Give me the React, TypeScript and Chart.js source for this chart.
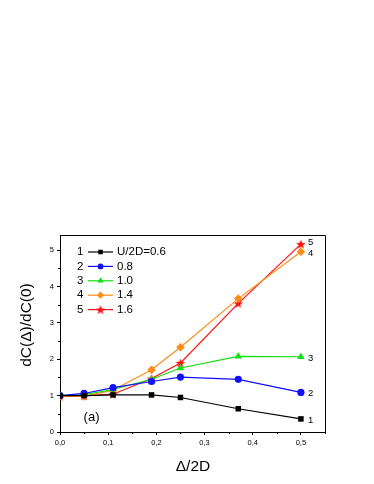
import React, { useEffect, useRef } from "react";
import { Chart, registerables } from "chart.js";
import { drawPoint } from "chart.js/helpers";

Chart.register(...registerables);

const xValues = [0, 0.05, 0.11, 0.19, 0.25, 0.37, 0.5];
const series1 = [1.0, 1.0, 1.02, 1.02, 0.95, 0.64, 0.36];
const series2 = [1.0, 1.06, 1.22, 1.39, 1.51, 1.45, 1.09];
const series3 = [1.0, 1.03, 1.17, 1.45, 1.76, 2.08, 2.07];
const series4 = [0.98, 0.98, 1.15, 1.71, 2.33, 3.67, 4.96];
const series5 = [0.98, 0.99, 1.04, 1.47, 1.9, 3.54, 5.17];
const seriesNumbers = ["1", "2", "3", "4", "5"];
const legendValues = ["U/2D=0.6", "0.8", "1.0", "1.4", "1.6"];
const yTicks = [0, 1, 2, 3, 4, 5];
const xTicks = [0, 0.1, 0.2, 0.3, 0.4, 0.5];

const colors = ["#000000", "#1010ff", "#10e010", "#ff8c1a", "#ff1010"];

function makeStar(color: string, size: number) {
  const c = document.createElement("canvas");
  c.width = size;
  c.height = size;
  const ctx = c.getContext("2d")!;
  const cx = size / 2, cy = size / 2 + 0.5;
  const R = size / 2, r = R * 0.42;
  ctx.beginPath();
  for (let i = 0; i < 10; i++) {
    const rad = i % 2 === 0 ? R : r;
    const a = -Math.PI / 2 + (i * Math.PI) / 5;
    const px = cx + rad * Math.cos(a);
    const py = cy + rad * Math.sin(a);
    if (i === 0) ctx.moveTo(px, py);
    else ctx.lineTo(px, py);
  }
  ctx.closePath();
  ctx.fillStyle = color;
  ctx.fill();
  return c;
}

export default function App() {
  const ref = useRef<HTMLCanvasElement>(null);
  useEffect(() => {
    document.body.style.margin = "0";
    const star = makeStar(colors[4], 10);
    const styles: any[] = ["rect", "circle", "triangle", "rectRot", star];
    const radii = [3.9, 3.6, 4.3, 4.3, 5];
    const all = [series1, series2, series3, series4, series5];
    const datasets = all.map((s, i) => ({
      label: seriesNumbers[i],
      data: s.map((y, j) => ({ x: xValues[j], y })),
      showLine: true,
      borderColor: colors[i],
      backgroundColor: colors[i],
      borderWidth: 1.2,
      pointStyle: styles[i],
      pointRadius: radii[i],
      pointBorderWidth: 0,
      pointBackgroundColor: colors[i],
    }));

    const font = "Liberation Sans, Arial, sans-serif";

    const deco = {
      id: "deco",
      afterDraw(chart: any) {
        const ctx = chart.ctx as CanvasRenderingContext2D;
        const { left, right, top, bottom } = chart.chartArea;
        const xs = chart.scales.x;
        const ys = chart.scales.y;
        ctx.save();
        ctx.strokeStyle = "#000";
        ctx.lineWidth = 1;
        // top & right border
        ctx.beginPath();
        ctx.moveTo(left, top + 0.5);
        ctx.lineTo(right + 0.5, top + 0.5);
        ctx.lineTo(right + 0.5, bottom);
        ctx.stroke();
        // minor ticks
        ctx.beginPath();
        for (let v = 0.5; v < 5.4; v += 1) {
          const py = Math.round(ys.getPixelForValue(v)) + 0.5;
          ctx.moveTo(left, py);
          ctx.lineTo(left - 2, py);
        }
        for (let v = 0.05; v < 0.55; v += 0.1) {
          const px = Math.round(xs.getPixelForValue(v)) + 0.5;
          ctx.moveTo(px, bottom);
          ctx.lineTo(px, bottom + 2);
        }
        ctx.stroke();

        // legend
        ctx.fillStyle = "#000";
        ctx.font = `11.5px ${font}`;
        ctx.textBaseline = "middle";
        for (let i = 0; i < 5; i++) {
          const y = 252 + i * 14.4;
          ctx.fillStyle = "#000";
          ctx.textAlign = "left";
          ctx.fillText(seriesNumbers[i], 77, y);
          ctx.strokeStyle = colors[i];
          ctx.lineWidth = 1.2;
          ctx.beginPath();
          ctx.moveTo(88, y);
          ctx.lineTo(113, y);
          ctx.stroke();
          ctx.fillStyle = colors[i];
          drawPoint(ctx, { pointStyle: styles[i], radius: radii[i] - 0.7, borderWidth: 0, rotation: 0 } as any, 100.5, y);
          ctx.fillStyle = "#000";
          ctx.fillText(legendValues[i], 117, y);
        }

        // right-side labels
        ctx.font = `9.5px ${font}`;
        ctx.fillStyle = "#000";
        ctx.textAlign = "left";
        const lastX = xs.getPixelForValue(xValues[xValues.length - 1]);
        const offs = [1, 1, 1.5, 2, -1.5];
        for (let i = 0; i < 5; i++) {
          const s = all[i];
          const py = ys.getPixelForValue(s[s.length - 1]) + offs[i];
          ctx.fillText(seriesNumbers[i], lastX + 7, py);
        }

        // (a)
        ctx.font = `13px ${font}`;
        ctx.fillText("(a)", xs.getPixelForValue(0.049), ys.getPixelForValue(0.4));

        // axis titles
        ctx.font = `15.5px ${font}`;
        ctx.textAlign = "center";
        ctx.fillText("Δ/2D", 193, 467);
        ctx.save();
        ctx.translate(27, 325);
        ctx.rotate(-Math.PI / 2);
        ctx.fillText("dC(Δ)/dC(0)", 0, 0);
        ctx.restore();
        ctx.restore();
      },
    };

    const chart = new Chart(ref.current!, {
      type: "scatter",
      data: { datasets },
      options: {
        animation: false,
        responsive: false,
        layout: { padding: { left: 0, right: 49, top: 235, bottom: 0 } },
        plugins: { legend: { display: false }, tooltip: { enabled: false } },
        scales: {
          x: {
            type: "linear",
            min: 0,
            max: 0.55,
            afterFit: (s: any) => { s.height = 52; },
            afterBuildTicks: (s: any) => { s.ticks = xTicks.map((v) => ({ value: v })); },
            grid: { display: true, drawOnChartArea: false, tickLength: 3, tickColor: "#000", tickWidth: 1 },
            border: { display: true, color: "#000", width: 1 },
            ticks: {
              padding: 3,
              color: "#000",
              font: { family: font, size: 7.5 },
              maxRotation: 0,
              callback: (v: any) => Number(v).toFixed(1).replace(".", ","),
            },
          },
          y: {
            type: "linear",
            min: 0,
            max: 5.42,
            afterFit: (s: any) => { s.width = 60; },
            afterBuildTicks: (s: any) => { s.ticks = yTicks.map((v) => ({ value: v })); },
            grid: { display: true, drawOnChartArea: false, tickLength: 3, tickColor: "#000", tickWidth: 1 },
            border: { display: true, color: "#000", width: 1 },
            ticks: {
              padding: 3,
              color: "#000",
              font: { family: font, size: 7.5 },
              callback: (v: any) => String(v),
            },
          },
        },
      },
      plugins: [deco],
    });
    return () => chart.destroy();
  }, []);
  return <canvas ref={ref} width={374} height={484} style={{ display: "block", width: 374, height: 484 }} />;
}
